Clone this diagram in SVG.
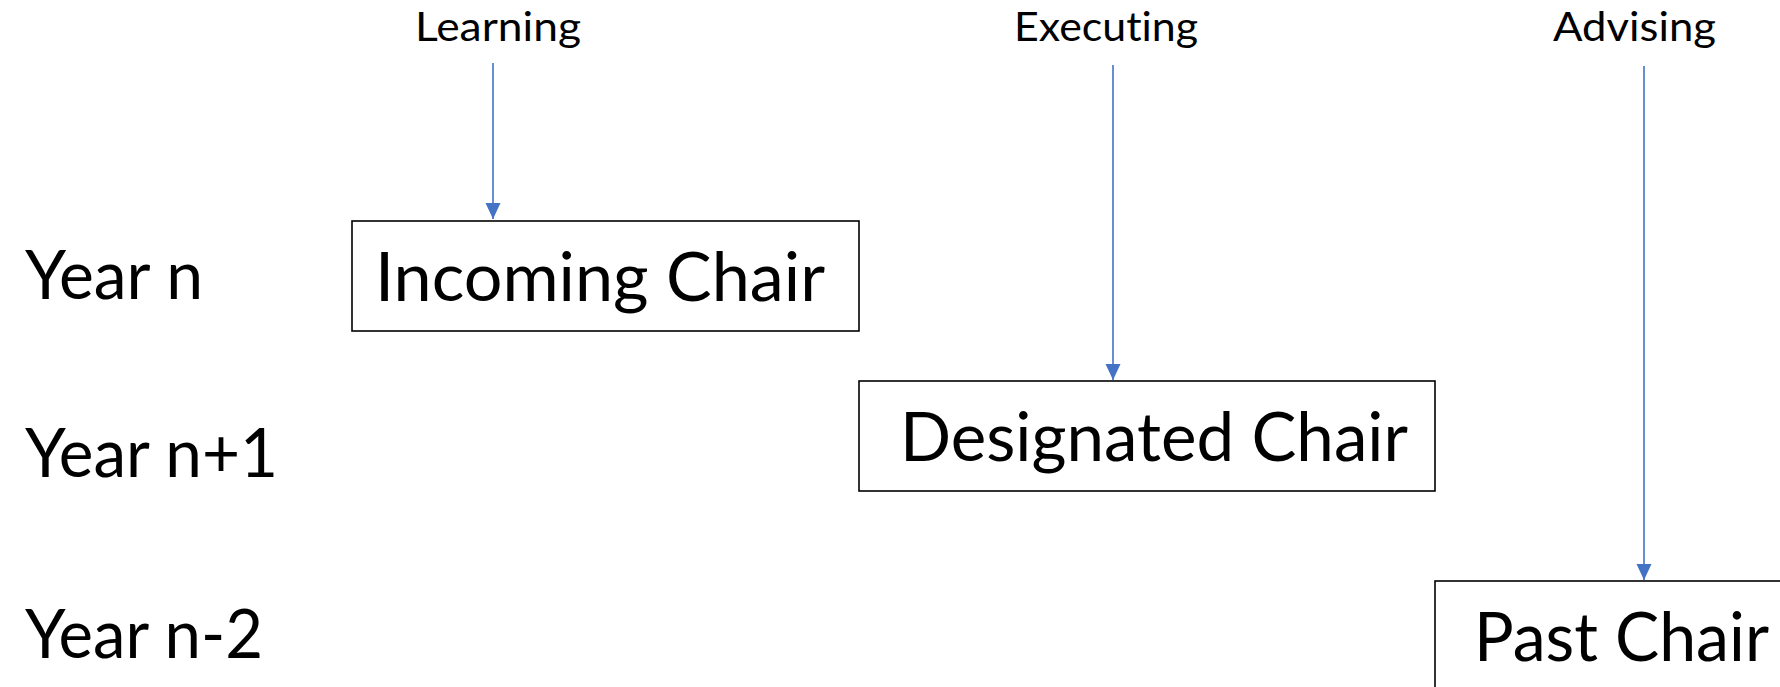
<svg xmlns="http://www.w3.org/2000/svg" width="1780" height="687" viewBox="0 0 1780 687">
<style>
text{font-family:Lato,"Open Sans","Liberation Sans",sans-serif;fill:#000;font-variant-ligatures:none;font-feature-settings:"liga" 0,"clig" 0}
.small{font-size:41px}
.big{font-size:67px}
.box{fill:#fff;stroke:#000;stroke-width:1.6}
.conn{stroke:#4472C4;stroke-width:1.6;fill:none}
</style>
<defs>
<marker id="ah" markerUnits="userSpaceOnUse" markerWidth="16" markerHeight="17" viewBox="0 0 16 17" refX="16" refY="8.5" orient="auto">
<path d="M0,1 L16,8.5 L0,16 Z" fill="#4472C4"/>
</marker>
</defs>
<rect width="1780" height="687" fill="#fff"/>
<g id="year-labels">
<text class="big" x="25" y="299" textLength="178" lengthAdjust="spacingAndGlyphs">Year n</text>
<text class="big" x="25" y="477" textLength="253" lengthAdjust="spacingAndGlyphs">Year n+1</text>
<text class="big" x="25" y="658" textLength="238" lengthAdjust="spacingAndGlyphs">Year n-2</text>
</g>
<g id="learning">
<text class="small" x="415" y="41" textLength="166" lengthAdjust="spacingAndGlyphs">Learning</text>
</g>
<g id="executing">
<text class="small" x="1014" y="41" textLength="184" lengthAdjust="spacingAndGlyphs">Executing</text>
</g>
<g id="advising">
<text class="small" x="1553" y="41" textLength="163" lengthAdjust="spacingAndGlyphs">Advising</text>
</g>
<g id="incoming-chair">
<rect class="box" x="352" y="221" width="507" height="110"/>
<text class="big" x="375" y="301" textLength="450" lengthAdjust="spacingAndGlyphs">Incoming Chair</text>
</g>
<g id="designated-chair">
<rect class="box" x="859" y="381" width="576" height="110"/>
<text class="big" x="900" y="461" textLength="508" lengthAdjust="spacingAndGlyphs">Designated Chair</text>
</g>
<g id="past-chair">
<rect class="box" x="1435" y="581" width="400" height="150"/>
<text class="big" x="1474" y="661" textLength="295" lengthAdjust="spacingAndGlyphs">Past Chair</text>
</g>
<g id="connectors">
<line class="conn" x1="493" y1="63" x2="493" y2="219" marker-end="url(#ah)"/>
<line class="conn" x1="1113" y1="65" x2="1113" y2="380" marker-end="url(#ah)"/>
<line class="conn" x1="1644" y1="66" x2="1644" y2="580" marker-end="url(#ah)"/>
</g>
</svg>
